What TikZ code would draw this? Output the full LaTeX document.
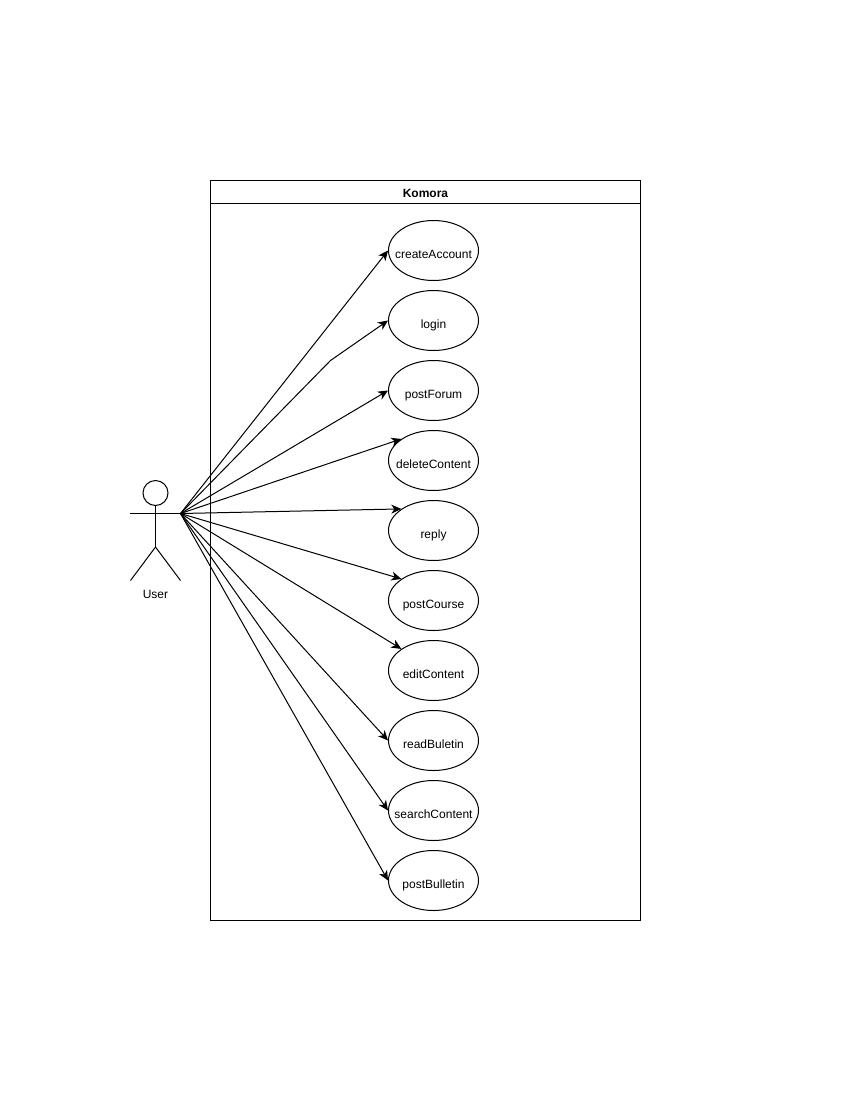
\documentclass[tikz,border=0pt]{standalone}
\usepackage{fontspec}
\setmainfont{Liberation Sans}
\usetikzlibrary{arrows.meta,shapes.geometric}
\tikzset{
    empty/.style={draw=none, fill=none, minimum size=0mm, inner sep=0mm},
    usecase/.style={draw, ellipse, line width=1pt, minimum width=90pt, minimum height=60pt,
        inner sep=0pt, text height=16pt, text depth=0pt},
    assoc/.style={line width=1pt, -{Stealth[length=10pt, width=9pt, inset=3pt]}},
    stick/.style={line width=1pt}
}
\newcommand{\ucname}[1]{\makebox[0pt]{#1}}

\begin{document}
\begin{tikzpicture}[x=1pt, y=-1pt, font=\fontsize{12pt}{14pt}\selectfont]
    \useasboundingbox (0, 0) rectangle (850, 1100);

    \node (frame) at (425.5, 550.5) [draw, line width=1pt, minimum width=430pt, minimum height=740pt, inner sep=0pt] {};
    \node (title) at (425.5, 193) [empty] {\textbf{Komora}};
    \coordinate (titlel) at (210.5, 203.5);
    \coordinate (titler) at (640.5, 203.5);
    \draw [stick] (titlel) -- (titler);

    \node (head) at (155.5, 493) [draw, circle, line width=1pt, minimum size=25pt, inner sep=0pt] {};
    \coordinate (hip) at (155.5, 547);
    \coordinate (arml) at (130, 513.5);
    \coordinate (armr) at (180.5, 513.5);
    \coordinate (footl) at (130.5, 580.5);
    \coordinate (footr) at (180.5, 580.5);
    \node (user) at (155.5, 594.5) [empty] {User};

    \draw [stick] (head) -- (hip);
    \draw [stick] (arml) -- (armr);
    \draw [stick] (footl) -- (hip);
    \draw [stick] (hip) -- (footr);

    \node (create) at (433.5, 250.5) [usecase] {\ucname{createAccount}};
    \node (login) at (433.5, 320.5) [usecase] {\ucname{login}};
    \node (forum) at (433.5, 390.5) [usecase] {\ucname{postForum}};
    \node (delete) at (433.5, 460.5) [usecase] {\ucname{deleteContent}};
    \node (reply) at (433.5, 530.5) [usecase] {\ucname{reply}};
    \node (course) at (433.5, 600.5) [usecase] {\ucname{postCourse}};
    \node (edit) at (433.5, 670.5) [usecase] {\ucname{editContent}};
    \node (read) at (433.5, 740.5) [usecase] {\ucname{readBuletin}};
    \node (search) at (433.5, 810.5) [usecase] {\ucname{searchContent}};
    \node (bulletin) at (433.5, 880.5) [usecase] {\ucname{postBulletin}};

    \coordinate (bend) at (330.5, 360.5);

    \draw [assoc] (armr) -- (create.west);
    \draw [assoc] (armr) -- (bend) -- (login.west);
    \draw [assoc] (armr) -- (forum.west);
    \draw [assoc] (armr) -- (delete.north west);
    \draw [assoc] (armr) -- (reply.north west);
    \draw [assoc] (armr) -- (course.north west);
    \draw [assoc] (armr) -- (edit.north west);
    \draw [assoc] (armr) -- (read.west);
    \draw [assoc] (armr) -- (search.west);
    \draw [assoc] (armr) -- (bulletin.west);
\end{tikzpicture}
\end{document}
